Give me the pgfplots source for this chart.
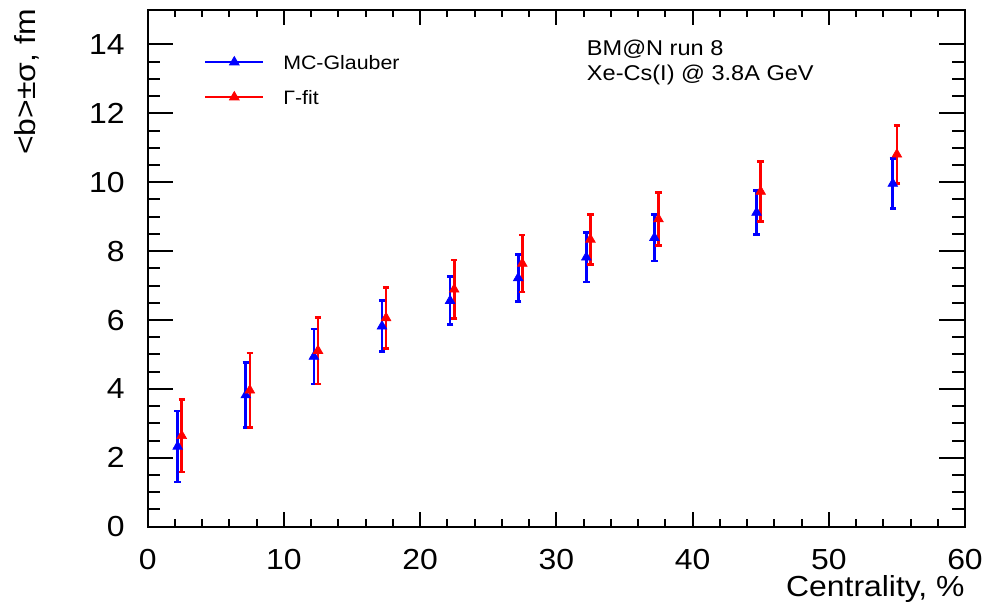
\documentclass[border=0pt]{standalone}
\usepackage{fontspec}
\setmainfont{Liberation Sans}[FakeStretch=1.1]
\usepackage{pgfplots}
\usepackage{pgfplotstable}
\pgfplotsset{compat=1.18}
\pgfplotstableread{
x y e
2.2 2.33 1.03
7.2 3.82 0.94
12.2 4.94 0.80
17.2 5.82 0.74
22.2 6.56 0.70
27.2 7.22 0.69
32.2 7.82 0.72
37.2 8.39 0.68
44.7 9.12 0.63
54.7 9.96 0.73
}\mcg
\pgfplotstableread{
x y e
2.5 2.64 1.05
7.5 3.96 1.08
12.5 5.11 0.97
17.5 6.06 0.88
22.5 6.89 0.85
27.5 7.64 0.83
32.5 8.34 0.73
37.5 8.93 0.77
45.0 9.73 0.88
55.0 10.81 0.84
}\gfit
\begin{document}
\begin{tikzpicture}
\path[use as bounding box] (0,0) rectangle (492.5bp,304.5bp);
\begin{axis}[
  at={(73.85bp,41.15bp)}, anchor=south west,
  scale only axis, width=408.65bp, height=258.35bp,
  xmin=0, xmax=60, ymin=0, ymax=15,
  axis line style={line width=1bp},
  xtick={0,10,...,60}, ytick={0,2,...,14},
  minor x tick num=4, minor y tick num=3,
  tick align=inside, xtick pos=both, ytick pos=both,
  xticklabel pos=lower, yticklabel pos=left,
  every tick/.style={black, line width=1bp},
  xtick style={/pgfplots/major tick length=7.5bp, /pgfplots/minor tick length=3.6bp},
  ytick style={/pgfplots/major tick length=12.8bp, /pgfplots/minor tick length=6.3bp},
  /pgf/number format/assume math mode=true,
  tick label style={font=\fontsize{14.5bp}{17bp}\selectfont},
  xticklabel style={anchor=base, yshift=-21.15bp, inner sep=0pt},
  yticklabel style={anchor=east, xshift=-11.35bp, inner sep=0pt},
  xlabel={Centrality, \%},
  ylabel={<b>±σ, fm},
  label style={font=\fontsize{14.5bp}{17bp}\selectfont, inner sep=0pt},
  xlabel style={at={(axis description cs:1,-0.136)}, anchor=base east},
  ylabel style={at={(axis description cs:-0.1379,1.002)}, anchor=base east, rotate=0},
  legend style={at={(axis description cs:0.0689,0.9135)}, anchor=north west,
    draw=none, fill=none, inner sep=0pt, row sep=10.4bp,
    nodes={inner sep=0pt, text height=7.1bp, text depth=0pt, font=\fontsize{9.7bp}{12bp}\selectfont}},
  legend cell align=left,
]
\addplot[blue, only marks, mark=triangle*, mark size=2.8bp, mark options={solid, fill=blue, draw=blue, line width=0.3bp},
  legend image code/.code={\path[draw=none] (0bp,0bp) -- (39bp,0bp);
    \draw[blue, sharp plot, no marks, line width=0.9bp] (0bp,0bp) -- (29bp,0bp);
    \draw[blue, only marks, mark=triangle*, mark size=2.8bp, mark options={solid, fill=blue}] plot coordinates {(14.5bp,0bp)};},
  error bars/.cd, y dir=both, y explicit,
  error bar style={line width=1.35bp, blue},
  error mark options={rotate=90, mark size=1.6bp, line width=1.35bp, blue}]
  table[x=x, y=y, y error=e] {\mcg};
\addlegendentry{MC-Glauber}
\addplot[red, only marks, mark=triangle*, mark size=2.8bp, mark options={solid, fill=red, draw=red, line width=0.3bp},
  legend image code/.code={\path[draw=none] (0bp,0bp) -- (39bp,0bp);
    \draw[red, sharp plot, no marks, line width=0.9bp] (0bp,0bp) -- (29bp,0bp);
    \draw[red, only marks, mark=triangle*, mark size=2.8bp, mark options={solid, fill=red}] plot coordinates {(14.5bp,0bp)};},
  error bars/.cd, y dir=both, y explicit,
  error bar style={line width=1.35bp, red},
  error mark options={rotate=90, mark size=1.6bp, line width=1.35bp, red}]
  table[x=x, y=y, y error=e] {\gfit};
\addlegendentry{Γ-fit}
\node[anchor=base west, inner sep=0pt, font=\fontsize{10.7bp}{13bp}\selectfont] at (axis description cs:0.537,0.911) {BM@N run 8};
\node[anchor=base west, inner sep=0pt, font=\fontsize{10.7bp}{13bp}\selectfont] at (axis description cs:0.537,0.8645) {Xe-Cs(I) @ 3.8A GeV};
\end{axis}
\end{tikzpicture}
\end{document}
